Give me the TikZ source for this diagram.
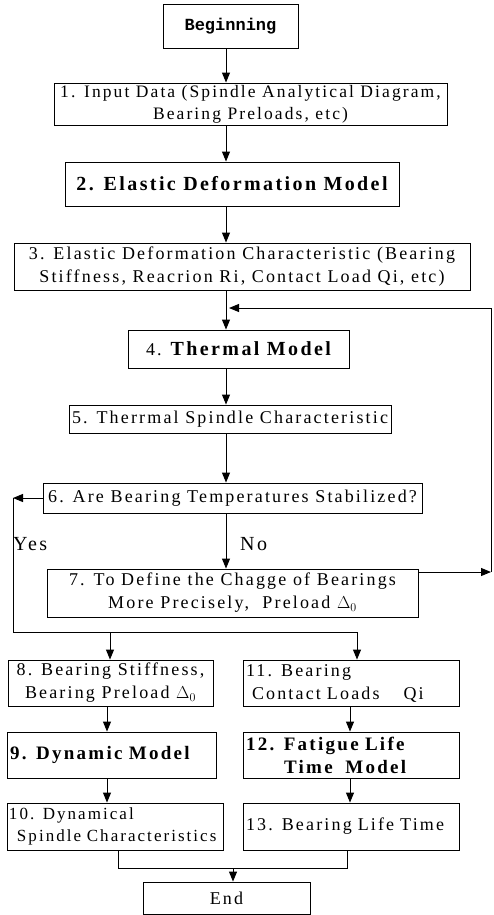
\documentclass[tikz,border=0pt]{standalone}
\usepackage{fontspec}
\setmainfont{Liberation Serif}[LetterSpace=12]
\newfontfamily\monof{Liberation Mono}
\usetikzlibrary{arrows.meta}
\newcommand{\fsn}{\fontsize{18}{23}\selectfont}
\newcommand{\fsb}{\fontsize{20}{24}\selectfont\bfseries}
\newcommand{\fsm}{\fontsize{19}{23}\selectfont\bfseries}
\tikzset{
  bx/.style 2 args={draw, line width=0.9pt, inner xsep=3pt, inner ysep=0pt,
    minimum width=#1pt, minimum height=#2pt, align=center, font=\fsn},
  arr/.style={-{Triangle[width=8pt,length=10pt]}, line width=1pt},
  ln/.style={line width=1pt},
  lbl/.style={font=\fontsize{20}{24}\selectfont, inner sep=0pt}
}
\begin{document}
\begin{tikzpicture}[x=1pt,y=-1pt]
\useasboundingbox (0,0) rectangle (493,915);
\coordinate (mx) at (226,0);
\node[bx={135}{44}, font=\monof\bfseries\fontsize{17}{20}\selectfont] (beg) at (230.5,26) {Beginning};
\node[bx={393}{42}, font=\fontsize{17.5}{22}\selectfont] (b1) at (250.5,104) {1. Input Data (Spindle Analytical Diagram,\\ Bearing Preloads, etc)};
\node[bx={334}{44}, font=\fsb] (b2) at (232,184) {2. Elastic Deformation Model};
\node[bx={456}{47}] (b3) at (242,266.5) {3. Elastic Deformation Characteristic (Bearing\\ Stiffness, Reacrion Ri, Contact Load Qi, etc)};
\node[bx={221}{38}] (b4) at (238.5,349) {4. {\fsb Thermal Model}};
\node[bx={316}{28}] (b5) at (230,419) {5. Therrmal Spindle Characteristic};
\node[bx={379}{30}] (b6) at (232.5,498) {6. Are Bearing Temperatures Stabilized?};
\node[bx={371}{48}] (b7) at (232.5,593) {7. To Define the Chagge of Bearings\\ More Precisely,\ \ Preload $\Delta_0$};
\node[bx={205}{46}] (b8) at (110.5,683) {8. Bearing Stiffness,\\ Bearing Preload $\Delta_0$};
\node[bx={216}{46}, text width=210pt, align=left] (b11) at (351,683) {11. Bearing\\ \hspace*{6pt}Contact Loads\ \ \ \ Qi};
\node[bx={209}{46}, text width=203pt, align=left, font=\fsm] (b9) at (111.5,755) {9. Dynamic Model};
\node[bx={216}{46}, text width=210pt, align=left, font=\fsm] (b12) at (351,755) {12. Fatigue Life\\ \hspace*{38pt}Time\ \ Model};
\node[bx={216}{47}, text width=212pt, inner xsep=2pt, align=left, font=\fontsize{17}{22}\selectfont] (b10) at (115,826.5) {10. Dynamical\\ \hspace*{8pt}\mbox{Spindle Characteristics}};
\node[bx={216}{47}, text width=210pt, align=left] (b13) at (351,826.5) {13. Bearing Life Time};
\node[bx={167}{32}] (end) at (226.5,898) {End};
% main column
\draw[arr] (beg.south -| mx) -- (b1.north -| mx);
\draw[arr] (b1.south -| mx) -- (b2.north -| mx);
\draw[arr] (b2.south -| mx) -- (b3.north -| mx);
\draw[arr] (b3.south -| mx) -- (b4.north -| mx);
\draw[arr] (b4.south -| mx) -- (b5.north -| mx);
\draw[arr] (b5.south -| mx) -- (b6.north -| mx);
\draw[arr] (b6.south -| mx) -- (b7.north -| mx);
\node[lbl, anchor=west] (no) at (240,544) {No};
\node[lbl, anchor=west] (yes) at (13,544) {Yes};
% feedback loop
\coordinate (fb) at (491,572);
\coordinate (ft) at (491,308);
\draw[arr] (b7.east |- fb) -- (fb);
\draw[arr, shorten >=3pt] (fb) -- (ft) -- (ft -| mx);
% yes branch
\coordinate (yc) at (13,498);
\coordinate (yb) at (13,632);
\coordinate (ye) at (357,632);
\coordinate (yl) at (110,632);
\draw[arr] (b6.west) -- (yc);
\draw[ln] (yc) -- (yb) -- (ye);
\draw[arr] (yl) -- (b8.north -| yl);
\draw[arr] (ye) -- (b11.north -| ye);
% left and right columns
\coordinate (lx) at (107,0);
\coordinate (rx) at (350,0);
\draw[arr] (b8.south -| lx) -- (b9.north -| lx);
\draw[arr] (b9.south -| lx) -- (b10.north -| lx);
\draw[arr] (b11.south -| rx) -- (b12.north -| rx);
\draw[arr] (b12.south -| rx) -- (b13.north -| rx);
% join to end
\coordinate (jl) at (118,868);
\coordinate (jr) at (347,868);
\coordinate (jm) at (233,868);
\draw[ln] (b10.south -| jl) -- (jl) -- (jr) -- (b13.south -| jr);
\draw[arr] (jm) -- (end.north -| jm);
\end{tikzpicture}
\end{document}
